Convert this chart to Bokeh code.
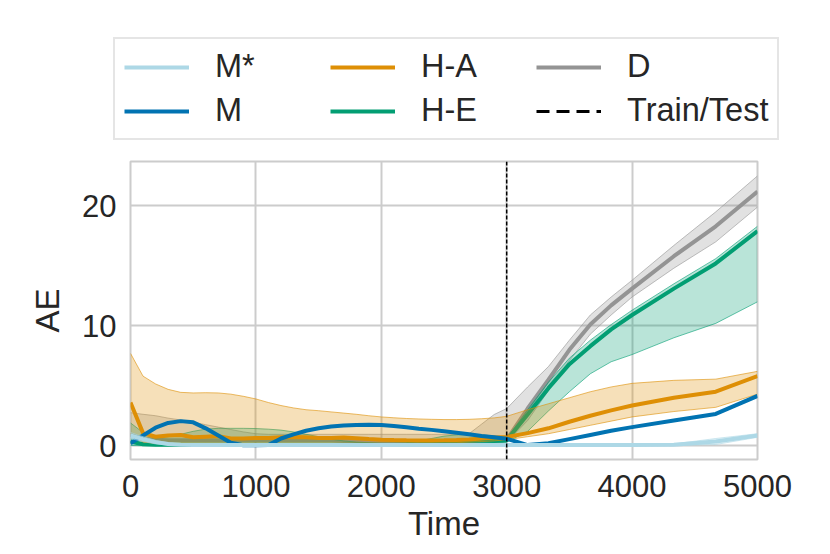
from bokeh.plotting import figure
from bokeh.layouts import column
from bokeh.models import Range1d, Legend, LegendItem, FixedTicker
from bokeh.embed import file_html
from bokeh.resources import INLINE

# ---------------- data ----------------
time = [0, 100, 200, 300, 400, 500, 600, 700, 800, 900, 1000,
        1100, 1200, 1300, 1400, 1500, 1600, 1700, 1800, 1900, 2000,
        2100, 2200, 2300, 2400, 2500, 2600, 2700, 2800, 2900, 3000,
        3167, 3333, 3500, 3667, 3833, 4000, 4333, 4667, 5000]

split = 3000
x_ticks = [0, 1000, 2000, 3000, 4000, 5000]
y_ticks = [0, 10, 20]
x_lim = [0, 5000]
y_lim = [-1.15, 23.7]

labels = ["M*", "M", "H-A", "H-E", "D"]
split_label = "Train/Test"

# M* (light blue)
mstar_mean = [0.85, 0.55, 0.3, 0.15, 0.08, 0.06, 0.05, 0.05, 0.05, 0.05, 0.05,
              0.05, 0.05, 0.05, 0.05, 0.05, 0.05, 0.05, 0.05, 0.05, 0.05,
              0.05, 0.05, 0.05, 0.05, 0.05, 0.05, 0.05, 0.05, 0.05, 0.05,
              0.05, 0.05, 0.05, 0.05, 0.05, 0.05, 0.08, 0.35, 0.85]
mstar_up = [1.1, 0.75, 0.45, 0.25, 0.12, 0.1, 0.1, 0.1, 0.1, 0.1, 0.1,
            0.1, 0.1, 0.1, 0.1, 0.1, 0.1, 0.1, 0.1, 0.1, 0.1,
            0.1, 0.1, 0.1, 0.1, 0.1, 0.1, 0.1, 0.1, 0.1, 0.1,
            0.1, 0.1, 0.1, 0.1, 0.1, 0.1, 0.15, 0.6, 1.0]
mstar_lo = [0.6, 0.35, 0.15, 0.06, 0.03, 0.02, 0.02, 0.02, 0.02, 0.02, 0.02,
            0.02, 0.02, 0.02, 0.02, 0.02, 0.02, 0.02, 0.02, 0.02, 0.02,
            0.02, 0.02, 0.02, 0.02, 0.02, 0.02, 0.02, 0.02, 0.02, 0.02,
            0.02, 0.02, 0.02, 0.02, 0.02, 0.02, 0.03, 0.1, 0.7]

# M (blue)
m_mean = [0.2, 0.85, 1.5, 1.9, 2.05, 1.95, 1.45, 0.85, 0.25, 0.04, 0.03,
          0.05, 0.6, 0.95, 1.25, 1.45, 1.6, 1.68, 1.72, 1.74, 1.73,
          1.64, 1.53, 1.42, 1.32, 1.2, 1.08, 0.95, 0.81, 0.7, 0.58,
          0.05, 0.2, 0.55, 0.9, 1.25, 1.55, 2.1, 2.65, 4.15]

# H-A (orange)
ha_mean = [3.6, 1.05, 0.75, 0.85, 0.9, 0.7, 0.75, 0.8, 0.6, 0.6, 0.64,
           0.64, 0.7, 0.73, 0.7, 0.65, 0.65, 0.68, 0.62, 0.55, 0.5,
           0.47, 0.45, 0.44, 0.44, 0.45, 0.48, 0.52, 0.6, 0.68, 0.72,
           1.05, 1.45, 2.0, 2.5, 2.95, 3.35, 4.0, 4.5, 5.8]
ha_up = [7.7, 5.8, 5.15, 4.7, 4.45, 4.4, 4.42, 4.4, 4.3, 4.12, 3.9,
         3.6, 3.35, 3.15, 3.0, 2.92, 2.82, 2.72, 2.62, 2.5, 2.4,
         2.33, 2.27, 2.23, 2.2, 2.18, 2.18, 2.2, 2.25, 2.32, 2.45,
         3.0, 3.5, 4.0, 4.5, 4.9, 5.2, 5.45, 5.55, 6.2]
ha_lo = [1.0, 0.3, 0.2, 0.2, 0.2, 0.2, 0.2, 0.2, 0.2, 0.2, 0.2,
         0.2, 0.2, 0.2, 0.2, 0.2, 0.2, 0.2, 0.2, 0.2, 0.2,
         0.2, 0.2, 0.2, 0.2, 0.2, 0.25, 0.3, 0.35, 0.4, 0.5,
         0.75, 1.0, 1.35, 1.7, 2.05, 2.4, 2.85, 3.2, 4.3]

# H-E (green)
he_mean = [0.35, 0.12, 0.08, 0.08, 0.08, 0.08, 0.08, 0.08, 0.08, 0.08, 0.08,
           0.08, 0.08, 0.08, 0.08, 0.08, 0.08, 0.08, 0.08, 0.08, 0.08,
           0.08, 0.1, 0.15, 0.25, 0.35, 0.4, 0.42, 0.42, 0.4, 0.45,
           2.6, 4.8, 6.8, 8.3, 9.7, 10.9, 13.1, 15.2, 17.9]
he_up = [1.9, 1.1, 0.65, 0.75, 0.95, 1.2, 1.38, 1.45, 1.45, 1.45, 1.43,
         1.38, 1.3, 1.15, 0.95, 0.75, 0.55, 0.4, 0.3, 0.25, 0.2,
         0.2, 0.25, 0.4, 0.6, 0.8, 0.9, 0.95, 0.92, 0.8, 0.6,
         3.0, 5.3, 7.3, 8.8, 10.1, 11.3, 13.5, 15.6, 18.3]
he_lo = [0.02, 0.0, 0.0, 0.0, 0.0, 0.0, 0.0, 0.0, 0.0, 0.0, 0.0,
         0.0, 0.0, 0.0, 0.0, 0.0, 0.0, 0.0, 0.0, 0.0, 0.0,
         0.0, 0.0, 0.0, 0.0, 0.0, 0.05, 0.1, 0.15, 0.2, 0.3,
         1.2, 2.9, 4.5, 6.0, 7.0, 7.6, 9.0, 10.2, 12.0]

# D (gray)
d_mean = [0.9, 0.6, 0.5, 0.45, 0.45, 0.45, 0.45, 0.45, 0.45, 0.45, 0.45,
          0.45, 0.45, 0.45, 0.45, 0.45, 0.45, 0.42, 0.4, 0.4, 0.4,
          0.4, 0.4, 0.4, 0.4, 0.4, 0.4, 0.4, 0.42, 0.45, 0.5,
          3.1, 5.5, 8.0, 10.1, 11.7, 13.1, 15.8, 18.3, 21.2]
d_up = [2.75, 2.62, 2.5, 2.3, 2.15, 1.97, 1.75, 1.55, 1.35, 1.15, 1.0,
        0.95, 0.95, 0.95, 0.95, 0.95, 0.95, 0.95, 0.95, 0.95, 0.95,
        0.95, 0.95, 0.95, 0.95, 0.95, 0.95, 1.0, 1.8, 2.6, 3.1,
        4.9, 6.6, 8.8, 10.9, 12.4, 13.8, 16.7, 19.5, 22.5]
d_lo = [0.2, 0.15, 0.15, 0.15, 0.15, 0.15, 0.15, 0.15, 0.15, 0.15, 0.15,
        0.15, 0.15, 0.15, 0.15, 0.15, 0.15, 0.15, 0.15, 0.15, 0.15,
        0.15, 0.15, 0.15, 0.15, 0.15, 0.15, 0.15, 0.2, 0.25, 0.3,
        2.1, 4.6, 7.1, 9.3, 10.9, 12.4, 14.8, 17.0, 19.9]

colors = {"M*": "#add8e6", "M": "#0173b2", "H-A": "#de8f05",
          "H-E": "#029e73", "D": "#949494"}

# ---------------- styling ----------------
FONT = "Liberation Sans"
TXT = "#262626"
GRID = "#cccccc"
W = 814
TOP_H = 157
MAIN_H = 389
LW = 4

# ---------------- main plot ----------------
p = figure(width=W, height=MAIN_H, output_backend="svg", toolbar_location=None,
           x_range=Range1d(*x_lim), y_range=Range1d(*y_lim),
           min_border_left=130, min_border_right=57,
           min_border_top=4, min_border_bottom=87)
p.frame_align = False
p.background_fill_color = "white"
p.border_fill_color = "white"
p.outline_line_color = GRID
p.outline_line_width = 2

for ax in (p.xaxis[0], p.yaxis[0]):
    ax.axis_line_color = None
    ax.major_tick_line_color = None
    ax.minor_tick_line_color = None
    ax.major_tick_out = 0
    ax.major_tick_in = 0
    ax.major_label_text_font = FONT
    ax.major_label_text_font_size = "31px"
    ax.major_label_text_color = TXT
    ax.axis_label_text_font = FONT
    ax.axis_label_text_font_size = "33px"
    ax.axis_label_text_font_style = "normal"
    ax.axis_label_text_color = TXT

p.xaxis.ticker = FixedTicker(ticks=x_ticks)
p.yaxis.ticker = FixedTicker(ticks=y_ticks)
p.xaxis.axis_label = "Time"
p.yaxis.axis_label = "AE"
p.xaxis.major_label_standoff = 15
p.yaxis.major_label_standoff = 14
p.xaxis.axis_label_standoff = 5
p.yaxis.axis_label_standoff = 13

p.xgrid.ticker = FixedTicker(ticks=x_ticks)
p.ygrid.ticker = FixedTicker(ticks=y_ticks)
for g in (p.xgrid[0], p.ygrid[0]):
    g.grid_line_color = GRID
    g.grid_line_width = 2

series = {
    "D": (d_mean, d_up, d_lo),
    "H-E": (he_mean, he_up, he_lo),
    "H-A": (ha_mean, ha_up, ha_lo),
    "M": (m_mean, None, None),
    "M*": (mstar_mean, mstar_up, mstar_lo),
}

for name in ["D", "H-E", "H-A", "M", "M*"]:
    mean, up, lo = series[name]
    c = colors[name]
    if up is not None:
        p.varea(x=time, y1=lo, y2=up, fill_color=c, fill_alpha=0.28)
        p.line(time, up, line_color=c, line_alpha=0.6, line_width=1)
        p.line(time, lo, line_color=c, line_alpha=0.6, line_width=1)
    p.line(time, mean, line_color=c, line_width=LW)

p.line([split, split], y_lim, line_color="black", line_width=1.5,
       line_dash="4 2")

# ---------------- legend strip above the plot ----------------
top = figure(width=W, height=TOP_H, output_backend="svg", toolbar_location=None,
             x_range=Range1d(0, 1), y_range=Range1d(0, 1),
             x_axis_location=None, y_axis_location=None,
             min_border=0)
top.frame_align = False
top.outline_line_color = None
top.xgrid.visible = False
top.ygrid.visible = False
top.background_fill_color = "white"
top.border_fill_color = "white"

nan = float("nan")
key = {}
for name in labels:
    key[name] = top.line(x=[nan], y=[nan], line_color=colors[name], line_width=LW)
key[split_label] = top.line(x=[nan], y=[nan], line_color="black", line_width=3,
                            line_dash="13 7")

# row-major 2 x 3 grid: columns (M*, M), (H-A, H-E), (D, Train/Test)
order = ["M*", "H-A", "D", "M", "H-E", split_label]
items = [LegendItem(label=k, renderers=[key[k]]) for k in order]

legend = Legend(items=items, orientation="horizontal", ncols=3,
                location=(113, 17))
legend.label_text_font = FONT
legend.label_text_font_size = "32.5px"
legend.label_text_color = TXT
legend.glyph_width = 65
legend.glyph_height = 36
legend.label_height = 36
legend.label_width = 108
legend.label_standoff = 26
legend.spacing = 7
legend.padding = 9
legend.margin = 0
legend.border_line_color = GRID
legend.border_line_width = 2
legend.background_fill_color = "white"
legend.background_fill_alpha = 1.0
top.add_layout(legend, "center")

layout = column(top, p, spacing=0)
open("out.html", "w").write(file_html(layout, INLINE))
